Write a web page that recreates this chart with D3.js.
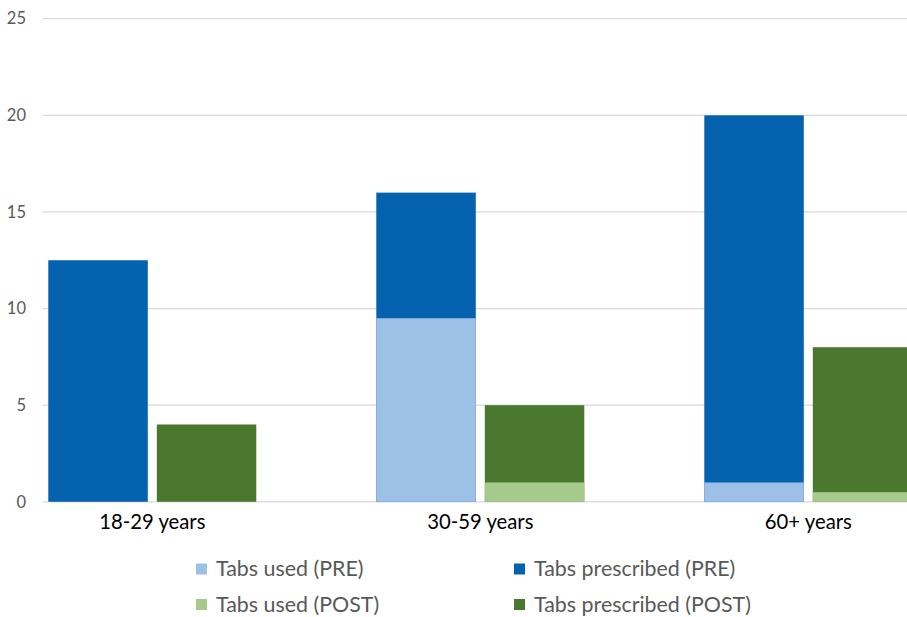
<!DOCTYPE html>
<html>
<head>
<meta charset="utf-8">
<script src="https://cdn.jsdelivr.net/npm/d3@7"></script>
<style>
  html, body { margin: 0; padding: 0; background: #fff; }
  svg { display: block; }
  text { font-family: Lato, "Open Sans", sans-serif; }
</style>
</head>
<body>
<svg id="chart" width="907" height="617"></svg>
<script>
const categories = ["18-29 years", "30-59 years", "60+ years"];
const phases = ["PRE", "POST"];
const prescribedPre = [12.5, 16, 20];
const usedPre = [0, 9.5, 1];
const prescribedPost = [4, 5, 8];
const usedPost = [0, 1, 0.5];
const yTicks = [0, 5, 10, 15, 20, 25];
const legendItems = [
  { label: "Tabs used (PRE)", color: "#9DC0E6" },
  { label: "Tabs prescribed (PRE)", color: "#0462AE" },
  { label: "Tabs used (POST)", color: "#A6CA8C" },
  { label: "Tabs prescribed (POST)", color: "#4A782E" }
];

const svg = d3.select("#chart");

const y = d3.scaleLinear().domain([0, 25]).range([501.8, 18.7]);
const x = d3.scaleBand().domain(categories).range([-11.7, 972.3]).paddingInner(0).paddingOuter(0);
const xSub = d3.scaleBand().domain(phases).range([0, x.bandwidth()]).paddingInner(0.083).paddingOuter(0.553);

// gridlines
svg.append("g").selectAll("line").data(yTicks).join("line")
  .attr("x1", 43).attr("x2", 907)
  .attr("y1", d => y(d)).attr("y2", d => y(d))
  .attr("stroke", "#d9d9d9").attr("stroke-width", 1.3);

// y axis labels
const yAxis = d3.axisLeft(y).tickValues(yTicks).tickSize(0).tickPadding(0);
const yg = svg.append("g").attr("transform", "translate(26,0)").call(yAxis);
yg.select(".domain").remove();
yg.selectAll("text").attr("font-size", 16.5).attr("fill", "#595959")
  .attr("font-family", "Lato, 'Open Sans', sans-serif");

// bars data
const rows = [];
categories.forEach((c, i) => {
  rows.push({ cat: c, phase: "PRE", prescribed: prescribedPre[i], used: usedPre[i], cP: legendItems[1].color, cU: legendItems[0].color });
  rows.push({ cat: c, phase: "POST", prescribed: prescribedPost[i], used: usedPost[i], cP: legendItems[3].color, cU: legendItems[2].color });
});

const bars = svg.append("g");
bars.selectAll("rect.presc").data(rows).join("rect")
  .attr("class", "presc")
  .attr("x", d => x(d.cat) + xSub(d.phase))
  .attr("width", xSub.bandwidth())
  .attr("y", d => y(d.prescribed))
  .attr("height", d => y(0) - y(d.prescribed))
  .attr("fill", d => d.cP);
bars.selectAll("rect.used").data(rows.filter(d => d.used > 0)).join("rect")
  .attr("class", "used")
  .attr("x", d => x(d.cat) + xSub(d.phase))
  .attr("width", xSub.bandwidth())
  .attr("y", d => y(d.used))
  .attr("height", d => y(0) - y(d.used))
  .attr("fill", d => d.cU);

// x labels
const xAxis = d3.axisBottom(x).tickSize(0).tickPadding(0);
const xg = svg.append("g").attr("transform", "translate(0,522)").call(xAxis);
xg.select(".domain").remove();
xg.selectAll("text").attr("font-size", 20.3).attr("fill", "#000")
  .attr("y", 0).attr("dy", "0.35em")
  .attr("font-family", "Lato, 'Open Sans', sans-serif");

// legend
const legPos = [[196, 569], [514, 569], [196, 604.5], [514, 604.5]];
const lg = svg.append("g");
legendItems.forEach((d, i) => {
  const [lx, ly] = legPos[i];
  lg.append("rect").attr("x", lx).attr("y", ly - 5.5).attr("width", 11).attr("height", 11).attr("fill", d.color);
  lg.append("text").attr("x", lx + 20).attr("y", ly).attr("dy", "0.35em")
    .attr("font-size", 21.4).attr("fill", "#595959").text(d.label);
});
</script>
</body>
</html>
